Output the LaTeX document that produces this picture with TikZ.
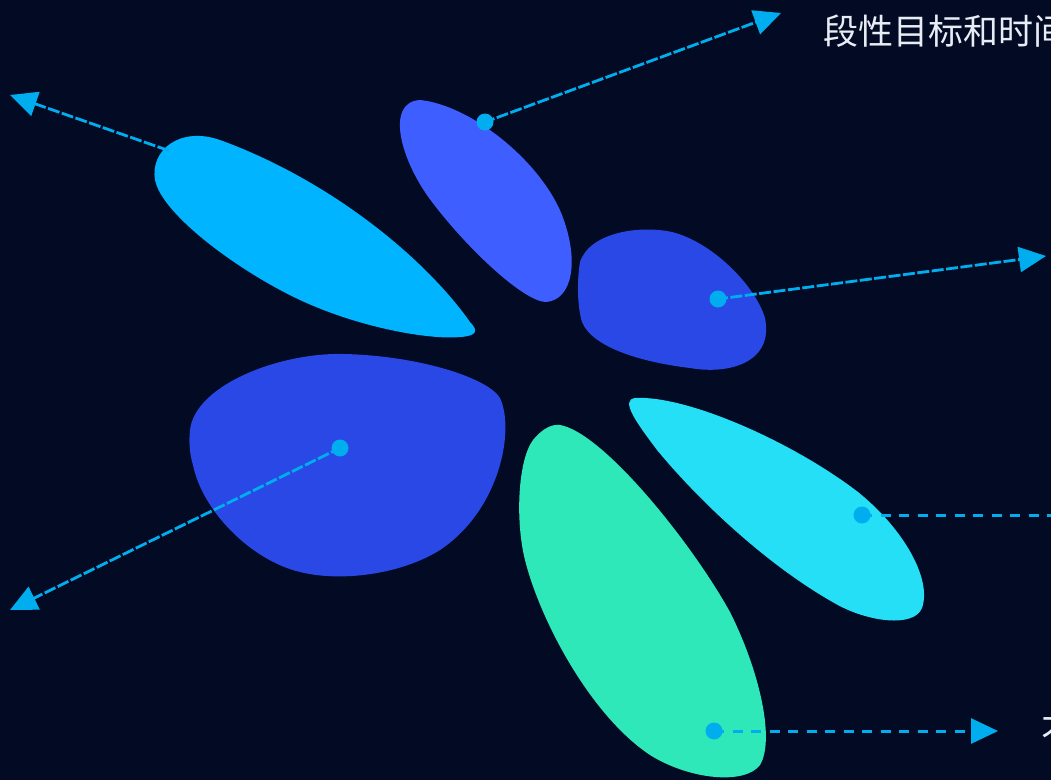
\documentclass[tikz,border=0pt]{standalone}
\usepackage{fontspec}
\newfontfamily\cjk{Noto Sans CJK SC}
\usetikzlibrary{arrows.meta}
\definecolor{bg}{HTML}{020B23}
\definecolor{pcyan}{HTML}{00B4FF}
\definecolor{pviolet}{HTML}{3F5EFF}
\definecolor{pblue}{HTML}{2A48E6}
\definecolor{pgreen}{HTML}{2FE8B9}
\definecolor{plight}{HTML}{24DFF5}
\definecolor{lineblue}{HTML}{00AEEF}
\definecolor{txt}{HTML}{E8ECF5}
\tikzset{
  petal/.style={draw=none},
  dotnode/.style={circle,fill=lineblue,inner sep=0pt,minimum size=17pt},
  diagline/.style={draw=lineblue,line width=2.8pt,dash pattern=on 12pt off 2.5pt,-{Triangle[length=27pt,width=25pt,fill=lineblue]},shorten <=-2pt},
  horizline/.style={draw=lineblue,line width=3pt,dash pattern=on 10pt off 8.5pt},
  harrow/.style={horizline,-{Triangle[length=27pt,width=25pt,fill=lineblue]}},
  label/.style={font=\cjk\fontsize{35pt}{40pt}\selectfont,text=txt,inner sep=0pt}
}
\begin{document}
\begin{tikzpicture}[x=1pt,y=-1pt]
\fill[bg] (0,0) rectangle (1051,780);
\useasboundingbox (0,0) rectangle (1051,780);
% petals
\fill[pcyan,petal] (470,322) .. controls (425,258) and (330,180) .. (220,140) .. controls (180,126) and (150,150) .. (155,180) .. controls (162,215) and (240,272) .. (300,300) .. controls (360,328) and (430,340) .. (460,337) .. controls (478,336) and (478,330) .. (470,322) -- cycle;
\fill[pviolet,petal] (420,100) .. controls (470,105) and (540,160) .. (562,215) .. controls (580,262) and (572,300) .. (546,302) .. controls (525,302) and (470,252) .. (432,202) .. controls (400,160) and (385,102) .. (420,100) -- cycle;
\fill[pblue,petal] (580,262) .. controls (590,232) and (640,225) .. (672,232) .. controls (712,242) and (755,285) .. (765,318) .. controls (774,362) and (730,375) .. (690,368) .. controls (640,362) and (592,347) .. (582,322) .. controls (577,305) and (577,280) .. (580,262) -- cycle;
\fill[pblue,petal] (190,430) .. controls (195,385) and (280,352) .. (345,354) .. controls (420,356) and (488,378) .. (500,398) .. controls (515,430) and (500,510) .. (440,550) .. controls (400,575) and (340,582) .. (300,572) .. controls (250,560) and (202,510) .. (193,465) .. controls (189,452) and (189,440) .. (190,430) -- cycle;
\fill[pgreen,petal] (560,425) .. controls (602,432) and (690,540) .. (730,612) .. controls (760,672) and (775,740) .. (760,765) .. controls (745,785) and (690,780) .. (650,755) .. controls (590,715) and (540,620) .. (525,560) .. controls (515,520) and (518,460) .. (533,440) .. controls (543,428) and (552,424) .. (560,425) -- cycle;
\fill[plight,petal] (635,398) .. controls (685,395) and (790,440) .. (858,492) .. controls (905,530) and (932,580) .. (922,608) .. controls (914,628) and (868,622) .. (836,604) .. controls (768,566) and (700,502) .. (657,450) .. controls (636,422) and (620,400) .. (635,398) -- cycle;
% dots and end points
\node[dotnode] (d1) at (485,122) {};
\node[dotnode] (d2) at (718,299) {};
\node[dotnode] (d3) at (340,448) {};
\node[dotnode] (d4) at (862,515) {};
\node[dotnode] (d5) at (714,731) {};
\coordinate (s0) at (167,150);
\coordinate (e0) at (10,95);
\coordinate (e1) at (781,13);
\coordinate (e2) at (1046,256);
\coordinate (e3) at (10,610);
\coordinate (e4) at (1051,515);
\coordinate (e5) at (998,731);
% connectors
\draw[diagline] (s0) -- (e0);
\draw[diagline] (d1.center) -- (e1);
\draw[diagline] (d2.center) -- (e2);
\draw[diagline] (d3.center) -- (e3);
\draw[horizline] (d4.center) -- (e4);
\draw[harrow] (d5.center) -- (e5);
% texts
\node[label,anchor=base west] (t1) at (823,44) {段性目标和时间};
\node[label,anchor=base west] (t2) at (1041,744) {不};
\end{tikzpicture}
\end{document}
